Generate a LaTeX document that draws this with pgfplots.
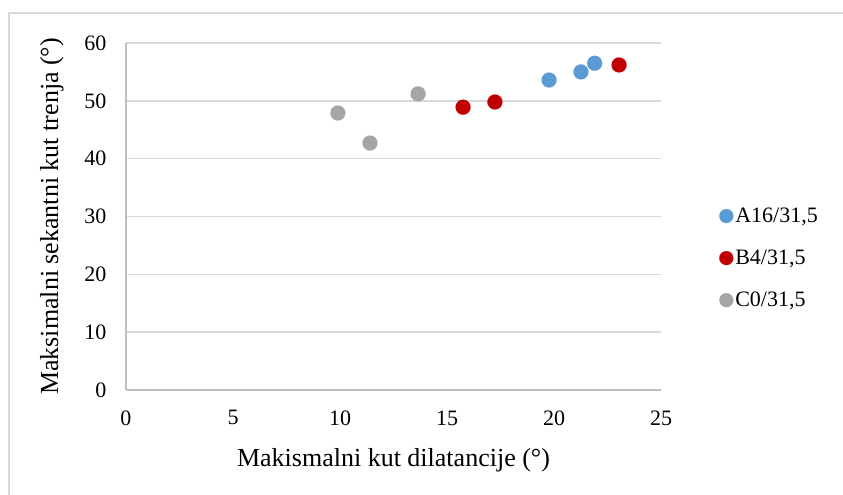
\documentclass[border=0pt]{standalone}
\usepackage{fontspec}
\setmainfont{Liberation Serif}
\usepackage{pgfplots}
\pgfplotsset{compat=1.18}
\definecolor{cA}{HTML}{5B9BD5}
\definecolor{cB}{HTML}{C00000}
\definecolor{cC}{HTML}{A5A5A5}
\definecolor{gridc}{HTML}{D9D9D9}
\definecolor{axc}{HTML}{BFBFBF}
\begin{document}
\begin{tikzpicture}
\path[use as bounding box] (0,0) rectangle (843pt,495pt);
\draw[gridc, line width=1.2pt] (9pt,0pt) -- (9pt,482pt) -- (843pt,482pt);
\begin{axis}[
  at={(126pt,105pt)}, anchor=south west,
  scale only axis, width=535pt, height=347pt,
  xmin=0, xmax=25, ymin=0, ymax=60,
  xtick={0,5,...,25}, ytick={0,10,...,60},
  ymajorgrids, grid style={gridc, line width=1.5pt},
  axis lines=left,
  axis line style={axc, line width=1.5pt, -},
  major tick length=0pt,
  tick label style={font=\fontsize{22}{24}\selectfont},
  /pgf/number format/assume math mode=true,
  xticklabel style={yshift=-17pt},
  yticklabel style={xshift=-16pt},
  xlabel={Makismalni kut dilatancije (°)},
  ylabel={Maksimalni sekantni kut trenja (°)},
  label style={font=\fontsize{26}{28}\selectfont},
  xlabel style={yshift=-16pt},
  ylabel style={yshift=14pt},
  legend style={draw=none, fill=none, at={(1.103,0.38)}, anchor=west,
    font=\fontsize{22}{24}\selectfont, row sep=22pt,
    /tikz/every even column/.append style={column sep=0pt}},
  legend cell align=left,
  legend image code/.code={\draw[#1, mark size=7pt] plot coordinates {(5pt,0pt)};},
]
\addplot[only marks, mark=*, mark size=7.5pt, mark options={fill=cA, draw=cA, line width=0.1pt}]
  coordinates {(19.77,53.6) (21.26,55.0) (21.9,56.5)};
\addlegendentry{A16/31,5}
\addplot[only marks, mark=*, mark size=7.5pt, mark options={fill=cB, draw=cB, line width=0.1pt}]
  coordinates {(15.75,48.9) (17.24,49.8) (23.04,56.2)};
\addlegendentry{B4/31,5}
\addplot[only marks, mark=*, mark size=7.5pt, mark options={fill=cC, draw=cC, line width=0.1pt}]
  coordinates {(9.9,47.9) (11.4,42.7) (13.65,51.2)};
\addlegendentry{C0/31,5}
\end{axis}
\end{tikzpicture}
\end{document}
